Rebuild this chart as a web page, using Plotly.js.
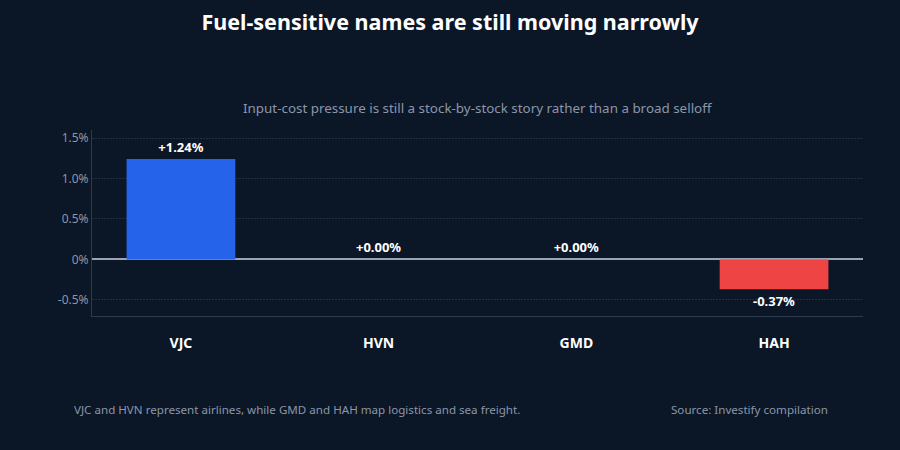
<!DOCTYPE html>
<html>
<head>
<meta charset="utf-8">
<script src="https://cdn.plot.ly/plotly-3.0.1.min.js"></script>
<style>
  html, body { margin: 0; padding: 0; background: #0b1627; }
  #chart { width: 900px; height: 450px; }
</style>
</head>
<body>
<div id="chart"></div>
<script>
/* values in percent */
const tickers = ['VJC', 'HVN', 'GMD', 'HAH'];
const changes = [1.24, 0.0, 0.0, -0.37];
const tickValues = [-0.5, 0, 0.5, 1.0, 1.5];
const tickLabels = ['-0.5%', '0%', '0.5%', '1.0%', '1.5%'];

const up = '#2563eb';
const down = '#ef4444';
const font = 'Noto Sans, Open Sans, sans-serif';

const labels = changes.map((v) => `${v >= 0 ? '+' : ''}${v.toFixed(2)}%`);

const trace = {
  type: 'bar',
  x: tickers,
  y: changes,
  width: 0.55,
  marker: { color: changes.map((v) => (v < 0 ? down : up)) },
  text: labels,
  textposition: 'outside',
  cliponaxis: false,
  textfont: { family: font, size: 13, color: '#ffffff', weight: 'bold' },
  hoverinfo: 'skip',
};

const layout = {
  width: 900,
  height: 450,
  paper_bgcolor: '#0b1627',
  plot_bgcolor: '#0b1627',
  margin: { l: 92, r: 37, t: 130, b: 134 },
  font: { family: font, color: '#8b97a8' },
  showlegend: false,
  title: {
    text: '<b>Fuel-sensitive names are still moving narrowly</b>',
    font: { family: font, size: 21.5, color: '#ffffff' },
    x: 0.5,
    xanchor: 'center',
    y: 0.95,
    yanchor: 'middle',
  },
  xaxis: {
    range: [-0.45, 3.45],
    showgrid: false,
    showline: true,
    linecolor: '#2c3a4f',
    linewidth: 1,
    ticks: '',
    tickfont: { family: font, size: 14, color: '#ffffff', weight: 'bold' },
    ticklabelstandoff: 14,
  },
  yaxis: {
    range: [-0.7, 1.6],
    tickvals: tickValues,
    ticktext: tickLabels,
    tickfont: { family: font, size: 12, color: '#8b97a8' },
    showgrid: true,
    gridcolor: '#222e42',
    griddash: '2px,1px',
    gridwidth: 1,
    showline: true,
    linecolor: '#2c3a4f',
    linewidth: 1,
    zeroline: true,
    zerolinecolor: '#9aa4b2',
    zerolinewidth: 2,
    ticks: '',
  },
  annotations: [
    {
      text: 'Input-cost pressure is still a stock-by-stock story rather than a broad selloff',
      xref: 'paper', yref: 'paper', x: 0.5, y: 1.12,
      xanchor: 'center', yanchor: 'middle', showarrow: false,
      font: { family: font, size: 13.4, color: '#8b97a8' },
    },
    {
      text: 'VJC and HVN represent airlines, while GMD and HAH map logistics and sea freight.',
      xref: 'paper', yref: 'paper', x: -0.026, y: -0.5,
      xanchor: 'left', yanchor: 'middle', showarrow: false,
      font: { family: font, size: 11.6, color: '#8b97a8' },
    },
    {
      text: 'Source: Investify compilation',
      xref: 'paper', yref: 'paper', x: 0.957, y: -0.5,
      xanchor: 'right', yanchor: 'middle', showarrow: false,
      font: { family: font, size: 11.6, color: '#8b97a8' },
    },
  ],
};

Plotly.newPlot('chart', [trace], layout, { displayModeBar: false, staticPlot: true });
</script>
</body>
</html>
